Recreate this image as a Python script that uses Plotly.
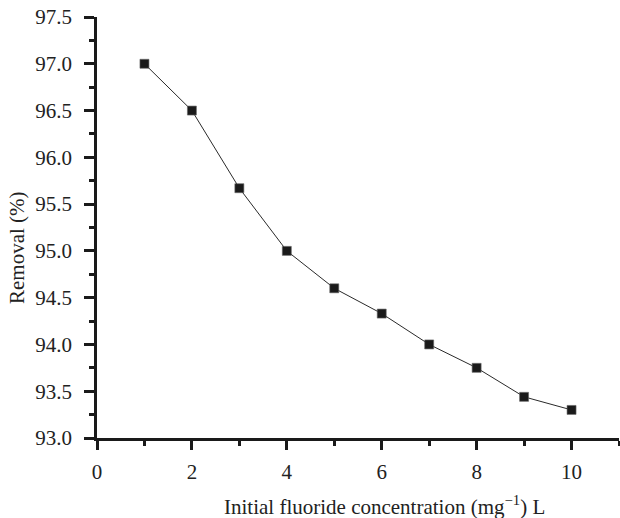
import plotly.graph_objects as go

concentration = [1, 2, 3, 4, 5, 6, 7, 8, 9, 10]
removal = [97.0, 96.5, 95.67, 95.0, 94.6, 94.33, 94.0, 93.75, 93.44, 93.3]

x_ticks = [0, 2, 4, 6, 8, 10]
y_ticks = [93.0, 93.5, 94.0, 94.5, 95.0, 95.5, 96.0, 96.5, 97.0, 97.5]
y_ticktext = [f"{v:.1f}" for v in y_ticks]

FONT = "Liberation Serif, Times New Roman, serif"

fig = go.Figure()
fig.add_trace(go.Scatter(
    x=concentration, y=removal, mode="lines+markers",
    line=dict(color="#2a2a2a", width=1),
    marker=dict(symbol="square", size=9, color="#1a1a1a",
                line=dict(color="#666666", width=0.6)),
    showlegend=False,
))

axis_common = dict(
    showline=True, linecolor="#1a1a1a", linewidth=2.5,
    ticks="outside", tickcolor="#1a1a1a", tickwidth=2.5,
    showgrid=False, zeroline=False, mirror=False,
    tickfont=dict(family=FONT, size=21, color="#222222"),
)

fig.update_xaxes(
    range=[0, 11], tickvals=x_ticks, ticklen=9,
    minor=dict(dtick=1, tick0=0, ticklen=5, tickwidth=2.5, tickcolor="#1a1a1a", ticks="outside", showgrid=False),
    ticklabelstandoff=4,
    **axis_common,
)
fig.update_yaxes(
    range=[93.0, 97.5], tickvals=y_ticks, ticktext=y_ticktext, ticklen=10,
    minor=dict(dtick=0.25, tick0=93.0, ticklen=5, tickwidth=2.5, tickcolor="#1a1a1a", ticks="outside", showgrid=False),
    ticklabelstandoff=8,
    **axis_common,
)

fig.add_annotation(
    text="Initial fluoride concentration (mg<sup>−1</sup>) L",
    xref="paper", yref="paper", x=(384 - 97) / 522, y=-(505 - 438) / 421,
    xanchor="center", yanchor="middle", showarrow=False,
    font=dict(family=FONT, size=21, color="#222222"),
)
fig.add_annotation(
    text="Removal (%)",
    xref="paper", yref="paper", x=-(97 - 17) / 522, y=(438 - 248) / 421,
    xanchor="center", yanchor="middle", showarrow=False, textangle=-90,
    font=dict(family=FONT, size=21, color="#222222"),
)

fig.update_layout(
    width=620, height=518,
    margin=dict(l=97, r=1, t=17, b=80, pad=0),
    plot_bgcolor="white", paper_bgcolor="white",
)

fig.write_html("out.html")
